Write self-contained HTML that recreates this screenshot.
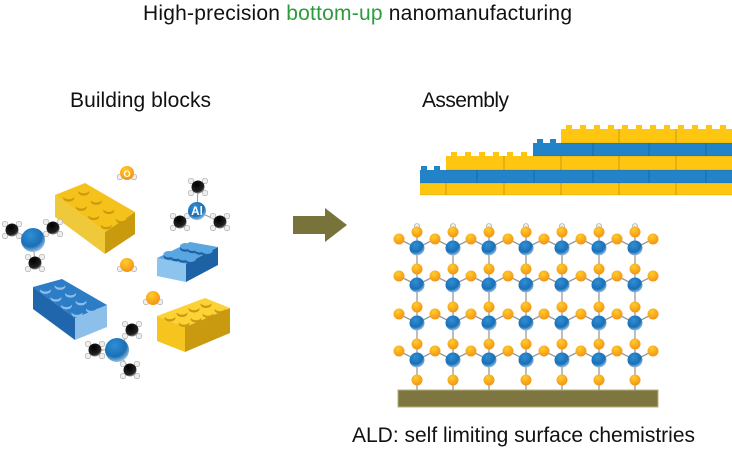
<!DOCTYPE html>
<html><head><meta charset="utf-8">
<style>
html,body{margin:0;padding:0;background:#fff;}
svg{display:block;}
text{font-family:"Liberation Sans Narrow","Liberation Sans",sans-serif;}
</style></head>
<body>
<svg id="s" width="732" height="451" viewBox="0 0 732 451" xmlns="http://www.w3.org/2000/svg">
<defs>
<radialGradient id="gb" cx="0.4" cy="0.3" r="0.8"><stop offset="0" stop-color="#2f8fd6"/><stop offset="0.6" stop-color="#1a6fb5"/><stop offset="1" stop-color="#cfe3f3"/></radialGradient>
<radialGradient id="go" cx="0.4" cy="0.3" r="0.8"><stop offset="0" stop-color="#ffcc2a"/><stop offset="1" stop-color="#f28c12"/></radialGradient>
<radialGradient id="gk" cx="0.4" cy="0.3" r="0.8"><stop offset="0" stop-color="#000"/><stop offset="0.7" stop-color="#222"/><stop offset="1" stop-color="#ddd"/></radialGradient>
</defs>
<text x="143" y="20" font-size="21" textLength="429" fill="#111">High-precision <tspan fill="#2c9c3c">bottom-up</tspan> nanomanufacturing</text>
<text x="70" y="107" font-size="21" textLength="141" fill="#111">Building blocks</text>
<text x="422" y="107" font-size="21" textLength="87" fill="#111">Assembly</text>
<text x="352" y="442" font-size="21" textLength="343" fill="#111">ALD: self limiting surface chemistries</text>
<polygon points="293,216 325,216 325,208 347,225 325,242 325,234 293,234" fill="#77733a"/>
<rect x="398" y="390" width="260" height="17" fill="#7d7641" stroke="#b5b07a" stroke-width="1"/>
<g id="lat"></g>
<g id="stack"></g>
<g id="left"></g>
</svg>
<script>
const NS="http://www.w3.org/2000/svg";
function el(p,t,a){const e=document.createElementNS(NS,t);for(const k in a)e.setAttribute(k,a[k]);p.appendChild(e);return e;}
const lat=document.getElementById('lat');
const bx=[417,453,489,526,562,599,635], by=[248,285,323,360];
const L=el(lat,'g',{stroke:'#999','stroke-width':1.3});
by.forEach((y,r)=>{
  bx.forEach((x,c)=>{
    el(L,'line',{x1:x,y1:y,x2:x-18,y2:y-9});
    el(L,'line',{x1:x,y1:y,x2:x+18,y2:y-9});
    el(L,'line',{x1:x,y1:y,x2:x,y2:y-17});
    el(L,'line',{x1:x,y1:y,x2:x,y2:(r==3?390:y+20)});
  });
});
by.forEach((y,r)=>{
  bx.forEach((x,c)=>{
    if(r==0) el(lat,'circle',{cx:x,cy:y-22,r:2.5,fill:'#e8eef2',stroke:'#999','stroke-width':0.6});
    el(lat,'circle',{cx:x,cy:y-16,r:5.5,fill:'url(#go)'});
    el(lat,'circle',{cx:x-18,cy:y-9,r:5.5,fill:'url(#go)'});
    if(c==6) el(lat,'circle',{cx:x+18,cy:y-9,r:5.5,fill:'url(#go)'});
    el(lat,'circle',{cx:x,cy:y,r:7.5,fill:'url(#gb)'});
    if(r==3) el(lat,'circle',{cx:x,cy:380,r:5.5,fill:'url(#go)'});
  });
});
const st=document.getElementById('stack');
const Y='#fec611',B='#2283c8';
function row(x,y,h,col,joints){el(st,'rect',{x:x,y:y,width:732-x,height:h,fill:col});
 joints.forEach(j=>el(st,'line',{x1:j,y1:y,x2:j,y2:y+h,stroke:'rgba(0,0,0,0.25)','stroke-width':0.8}));
 el(st,'line',{x1:x,y1:y+h,x2:732,y2:y+h,stroke:'rgba(0,0,0,0.2)','stroke-width':0.6});}
function studs(xs,y,col){xs.forEach(x=>el(st,'rect',{x:x,y:y-4,width:6,height:4,fill:col}));}
row(420,183,12,Y,[446,504,561,619,676]);
row(420,170,13,B,[477,534,593,649,706]);
row(446,156,14,Y,[504,561,619,676]);
row(533,143,13,B,[593,649,706]);
row(561,129,14,Y,[619,676]);
studs([421,434],170,B);
studs([451,465,479,493,507,521],156,Y);
studs([537,550],143,B);
for(let i=0;i<12;i++) studs([566+i*14],129,Y);
const lf=document.getElementById('left');
function brick(p0,p1,p2,p3,h,top,lc,rc,n,m){
  const P=p=>p.join(',');
  el(lf,'polygon',{points:[P(p0),P(p3),P([p3[0],p3[1]+h]),P([p0[0],p0[1]+h])].join(' '),fill:lc});
  el(lf,'polygon',{points:[P(p3),P(p2),P([p2[0],p2[1]+h]),P([p3[0],p3[1]+h])].join(' '),fill:rc});
  el(lf,'polygon',{points:[P(p0),P(p1),P(p2),P(p3)].join(' '),fill:top});
  const a=[p1[0]-p0[0],p1[1]-p0[1]],b=[p3[0]-p0[0],p3[1]-p0[1]];
  for(let j=0;j<m;j++)for(let i=0;i<n;i++){
    const x=p0[0]+(i+.5)/n*a[0]+(j+.5)/m*b[0], y=p0[1]+(i+.5)/n*a[1]+(j+.5)/m*b[1];
    el(lf,'ellipse',{cx:x,cy:y+1.5,rx:5.5,ry:3.5,fill:rc});
    el(lf,'ellipse',{cx:x,cy:y-0.5,rx:5.5,ry:3.2,fill:top});
  }
}
brick([55,195],[85,183],[135,212],[105,232],22,'#f5c21b','#f0c93a','#c99a0e',2,4);
brick([157,258],[190,242],[218,247],[186,264],18,'#5aa6e0','#8cc4ee','#1d62a5',2,4);
brick([33,287],[62,279],[107,305],[75,318],22,'#2c7cc6','#1f66ad','#8cc0ea',2,4);
brick([157,316],[205,298],[230,308],[185,327],25,'#fcd235','#f5c41e','#c99a10',4,2);
function atom(x,y,r,f,lbl){el(lf,'circle',{cx:x,cy:y,r:r,fill:f});
 if(lbl){const t=el(lf,'text',{x:x,y:y+4,'font-size':r*1.3,fill:'#fff','text-anchor':'middle','font-weight':'bold'});t.textContent=lbl;}}
function H(x,y){el(lf,'circle',{cx:x,cy:y,r:2.8,fill:'#eee',stroke:'#aaa','stroke-width':0.6});}
function methyl(x,y){H(x-7,y-6);H(x+7,y-6);H(x-7,y+6);H(x+7,y+6);atom(x,y,6.5,'url(#gk)');}
function mol(cx,cy,ms,lbl){ms.forEach(m=>el(lf,'line',{x1:cx,y1:cy,x2:m[0],y2:m[1],stroke:'#999','stroke-width':1}));
 ms.forEach(m=>methyl(m[0],m[1]));atom(cx,cy,lbl?9:12,'url(#gb)',lbl);}
mol(197,211,[[198,187],[180,222],[220,222]],'Al');
mol(33,240,[[12,230],[53,228],[35,263]]);
mol(117,350,[[95,350],[132,330],[130,370]]);
function water(x,y,lbl){H(x-7,y+4);H(x+7,y+4);atom(x,y,7,'url(#go)',lbl);}
water(127,173,'O');water(127,265);water(153,298);
</script>
</body></html>
